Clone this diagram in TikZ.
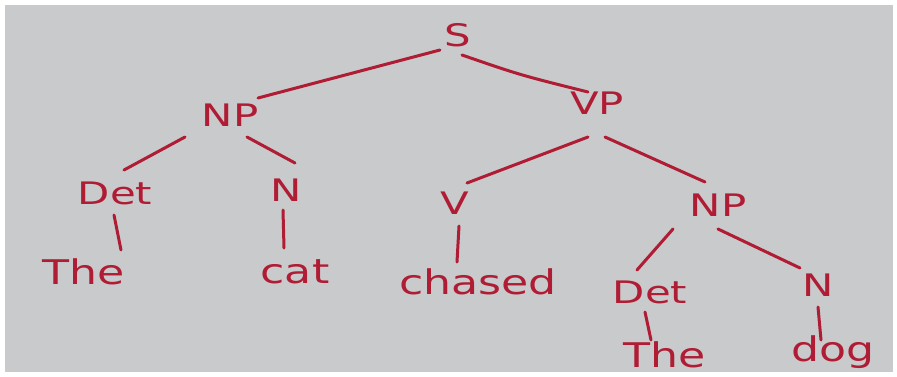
\documentclass[tikz,border=0pt]{standalone}
\usepackage{fontspec}
\setmainfont{DejaVu Sans}
\definecolor{ink}{RGB}{175,28,52}
\definecolor{paper}{RGB}{200,202,204}
\begin{document}
\begin{tikzpicture}[x=1pt,y=-1pt,
  lab/.style={text=ink,font=\fontsize{31}{31}\selectfont,inner sep=0pt,anchor=center,xscale=1.35},
  word/.style={text=ink,font=\fontsize{34}{34}\selectfont,inner sep=0pt,anchor=center,xscale=1.3},
  br/.style={draw=ink,line width=3pt,line cap=round}]
\useasboundingbox (0,0) rectangle (897,376);
\fill[white] (0,0) rectangle (897,376);
\fill[paper] (5,5) rectangle (893,372);
\node[lab] (S) at (458,35) {S};
\node[lab] (NP1) at (230,115) {NP};
\node[lab] (VP) at (597,103) {VP};
\node[lab] (Det1) at (115,193) {Det};
\node[lab] (N1) at (286,190) {N};
\node[lab] (V) at (455,203) {V};
\node[lab] (NP2) at (718,205) {NP};
\node[lab] (Det2) at (650,292) {Det};
\node[lab] (N2) at (818,285) {N};
\node[word] (The1) at (84,272) {The};
\node[word] (cat) at (295,272) {cat};
\node[word] (chased) at (478,282) {chased};
\node[word] (The2) at (665,355) {The};
\node[word] (dog) at (833,352) {dog};
\coordinate (a1) at (440,50); \coordinate (a2) at (258,98);
\draw[br] (a1) -- (a2);
\coordinate (b1) at (462,55); \coordinate (b2) at (588,92);
\draw[br] (b1) .. controls (520,75) .. (b2);
\coordinate (c1) at (185,137); \coordinate (c2) at (124,170);
\draw[br] (c1) -- (c2);
\coordinate (d1) at (247,137); \coordinate (d2) at (295,163);
\draw[br] (d1) -- (d2);
\coordinate (e1) at (588,137); \coordinate (e2) at (467,183);
\draw[br] (e1) -- (e2);
\coordinate (f1) at (605,137); \coordinate (f2) at (705,182);
\draw[br] (f1) -- (f2);
\coordinate (g1) at (114,215); \coordinate (g2) at (121,250);
\draw[br] (g1) -- (g2);
\coordinate (h1) at (283,210); \coordinate (h2) at (284,248);
\draw[br] (h1) -- (h2);
\coordinate (i1) at (459,226); \coordinate (i2) at (457,262);
\draw[br] (i1) -- (i2);
\coordinate (j1) at (673,229); \coordinate (j2) at (637,270);
\draw[br] (j1) -- (j2);
\coordinate (k1) at (718,229); \coordinate (k2) at (800,268);
\draw[br] (k1) -- (k2);
\coordinate (l1) at (645,312); \coordinate (l2) at (651,340);
\draw[br] (l1) -- (l2);
\coordinate (m1) at (818,307); \coordinate (m2) at (821,340);
\draw[br] (m1) -- (m2);
\end{tikzpicture}
\end{document}
